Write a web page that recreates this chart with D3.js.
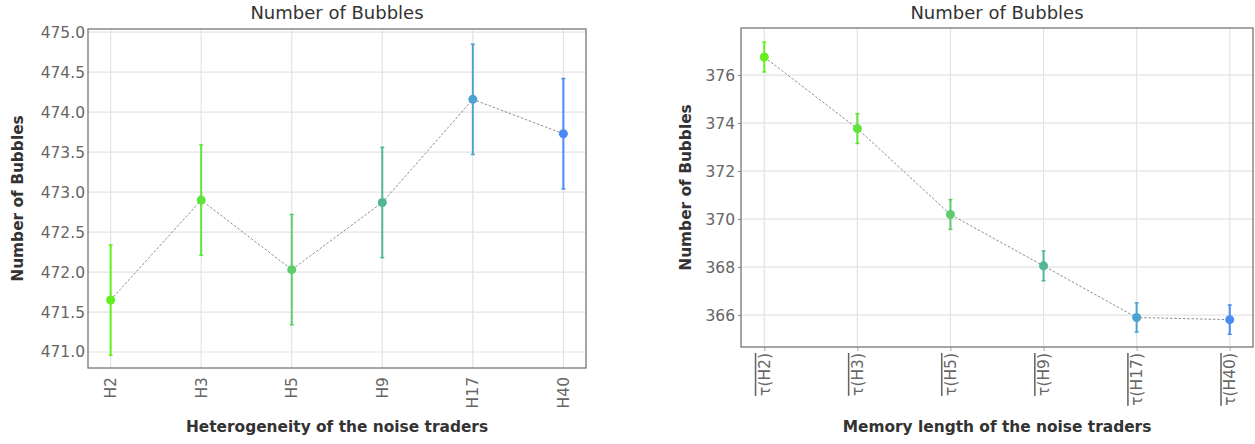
<!DOCTYPE html>
<html><head><meta charset="utf-8">
<script src="https://cdn.jsdelivr.net/npm/d3@7"></script>
<style>
body{margin:0;background:#fff;}
svg{display:block;font-family:"DejaVu Sans",sans-serif;}
</style></head>
<body><svg id="c" width="1255" height="444"></svg>
<script>
// ---- data ----
const categoriesLeft = ["H2","H3","H5","H9","H17","H40"];
const meansLeft = [471.65, 472.90, 472.03, 472.87, 474.16, 473.73];
const errLeft = [0.69, 0.69, 0.69, 0.69, 0.69, 0.69];
const yTicksLeft = [471.0, 471.5, 472.0, 472.5, 473.0, 473.5, 474.0, 474.5, 475.0];

const categoriesRight = ["H2","H3","H5","H9","H17","H40"];
const meansRight = [376.75, 373.77, 370.19, 368.05, 365.90, 365.81];
const errRight = [0.62, 0.62, 0.62, 0.62, 0.61, 0.61];
const yTicksRight = [366, 368, 370, 372, 374, 376];

const colors = ["#63f01e","#5ee43c","#5dcc6c","#52b894","#4ea2d0","#4a8af5"];

const svg = d3.select("#c");

function panel(opt){
  const g = svg.append("g");
  const x = d3.scalePoint().domain(opt.cats).range([opt.x0, opt.x1]).padding(0.25);
  const y = d3.scaleLinear().domain(opt.ydom).range([opt.y1, opt.y0]);
  // grid
  g.append("g").selectAll("line.vg").data(opt.cats).join("line")
    .attr("x1", d=>x(d)).attr("x2", d=>x(d)).attr("y1", opt.y0).attr("y2", opt.y1)
    .attr("stroke","#e3e3e3").attr("stroke-width",1.2);
  g.append("g").selectAll("line.hg").data(opt.yticks).join("line")
    .attr("x1", opt.x0).attr("x2", opt.x1).attr("y1", d=>y(d)).attr("y2", d=>y(d))
    .attr("stroke","#e3e3e3").attr("stroke-width",1.2);
  // axes
  const ya = g.append("g").attr("transform",`translate(${opt.x0},0)`)
    .call(d3.axisLeft(y).tickValues(opt.yticks).tickFormat(opt.fmt).tickSize(opt.tick).tickPadding(3));
  ya.select(".domain").remove();
  ya.selectAll("line").attr("stroke","#888");
  ya.selectAll("text").attr("font-size",15.5).attr("fill","#666").attr("font-family","DejaVu Sans");
  const xa = g.append("g").attr("transform",`translate(0,${opt.y1})`)
    .call(d3.axisBottom(x).tickSize(opt.xtick).tickPadding(0));
  xa.select(".domain").remove();
  xa.selectAll("line").attr("stroke","#aaa");
  xa.selectAll("text").remove();
  // border
  g.append("rect").attr("x",opt.x0).attr("y",opt.y0).attr("width",opt.x1-opt.x0).attr("height",opt.y1-opt.y0)
    .attr("fill","none").attr("stroke","#777").attr("stroke-width",1.3);
  // x tick labels rotated
  g.append("g").selectAll("text").data(opt.cats).join("text")
    .attr("transform", d=>`translate(${x(d)+5.5},${opt.y1+opt.labOff}) rotate(-90)`)
    .attr("text-anchor","end").attr("font-size",15.5).attr("fill","#666")
    .each(function(d){
      const t = d3.select(this);
      if(opt.tau){
        t.attr("text-decoration","overline").text("\u03C4(" + d + ")");
      } else t.text(d);
    });
  // line
  const pts = opt.cats.map((c,i)=>[x(c), y(opt.means[i])]);
  g.append("path").attr("d", d3.line()(pts)).attr("fill","none")
    .attr("stroke","#808080").attr("stroke-width",0.9).attr("stroke-dasharray","2.5,1.8");
  // error bars
  opt.cats.forEach((c,i)=>{
    const cx = x(c), lo = y(opt.means[i]-opt.err[i]), hi = y(opt.means[i]+opt.err[i]);
    g.append("line").attr("x1",cx).attr("x2",cx).attr("y1",lo).attr("y2",hi)
      .attr("stroke",colors[i]).attr("stroke-width",2);
    [lo,hi].forEach(v=>g.append("line").attr("x1",cx-2).attr("x2",cx+2).attr("y1",v).attr("y2",v)
      .attr("stroke",colors[i]).attr("stroke-width",1.5));
    g.append("circle").attr("cx",cx).attr("cy",y(opt.means[i])).attr("r",4.5).attr("fill",colors[i]);
  });
  // titles
  const cxm = (opt.x0+opt.x1)/2;
  g.append("text").attr("x",cxm).attr("y",19).attr("text-anchor","middle")
    .attr("font-size",18).attr("fill","#333").text("Number of Bubbles");
  g.append("text").attr("x",cxm).attr("y",432).attr("text-anchor","middle")
    .attr("font-size",15.4).attr("font-weight","bold").attr("fill","#333").text(opt.xtitle);
  g.append("text").attr("transform",`translate(${opt.ytx},${(opt.y0+opt.y1)/2}) rotate(-90)`)
    .attr("text-anchor","middle").attr("font-size",15.4).attr("font-weight","bold").attr("fill","#333")
    .text("Number of Bubbles");
}

panel({cats:categoriesLeft, means:meansLeft, err:errLeft, yticks:yTicksLeft,
  fmt:d3.format(".1f"), x0:88, x1:586, y0:29, y1:368, ydom:[470.8, 475.04],
  tick:0, xtick:0, labOff:9, tau:false, ytx:23, xtitle:"Heterogeneity of the noise traders"});
panel({cats:categoriesRight, means:meansRight, err:errRight, yticks:yTicksRight,
  fmt:d3.format("d"), x0:741, x1:1253, y0:28, y1:347, ydom:[364.67, 377.96],
  tick:3, xtick:4, labOff:6, tau:true, ytx:691, xtitle:"Memory length of the noise traders"});
</script></body></html>
